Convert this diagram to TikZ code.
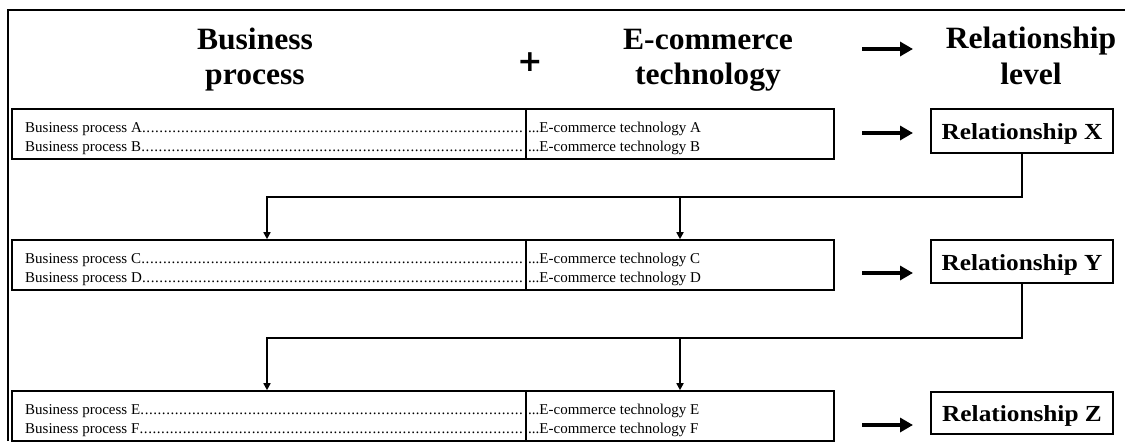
\documentclass[tikz,border=0pt]{standalone}
\usepackage{fontspec}
\setmainfont{Liberation Serif}
\newfontfamily\hdfont{Liberation Serif}[FakeStretch=1.02]
\newfontfamily\relfont{Liberation Serif}[FakeStretch=1.1]
\newfontfamily\plusfont{DejaVu Sans}
\usetikzlibrary{arrows.meta,calc}
\newcommand\dotlead{\xleaders\hbox to 4.3pt{\hss.\hss}\hfill}
\begin{document}
\begin{tikzpicture}[x=1pt,y=-1pt,
  frame/.style={line width=1.6pt},
  cell/.style={draw,line width=1.6pt,inner sep=0pt,minimum height=50pt},
  relbox/.style={draw,line width=1.6pt,inner sep=0pt,minimum width=182pt,
    text height=21pt,text depth=4pt,
    font=\relfont\fontsize{23pt}{25pt}\selectfont\bfseries},
  small/.style={inner sep=0pt,anchor=base west,font=\fontsize{15pt}{19pt}\selectfont},
  head/.style={inner sep=0pt,anchor=base,font=\hdfont\fontsize{31pt}{34pt}\selectfont\bfseries},
  bigarrow/.style={line width=4.5pt,-{Triangle[length=13pt,width=14pt]}},
  connarrow/.style={line width=1.6pt,-{Triangle[length=7pt,width=7pt]}}]
\useasboundingbox (0,0) rectangle (1128,442);
% outer frame
\draw[frame] (8,441) -- (8,10) -- (1125,10);
% header
\node[head] (h1) at (255,49) {Business};
\node[head] (h2) at (255,84) {process};
\node[inner sep=0pt,font=\plusfont\fontsize{30pt}{32pt}\selectfont\bfseries] (plus) at (530,62) {+};
\node[head] (h3) at (708,49) {E-commerce};
\node[head] (h4) at (708,84) {technology};
\node[head] (h5) at (1031,48) {Relationship};
\node[head] (h6) at (1031,84) {level};
\coordinate (ha0) at (862,49);
\coordinate (ha1) at (913,49);
\draw[bigarrow] (ha0) -- (ha1);
% row cells
\node[cell,minimum width=514pt] (bp1) at (269,134) {};
\node[cell,minimum width=308pt] (ec1) at (680,134) {};
\node[cell,minimum width=514pt] (bp2) at (269,265) {};
\node[cell,minimum width=308pt] (ec2) at (680,265) {};
\node[cell,minimum width=514pt] (bp3) at (269,416) {};
\node[cell,minimum width=308pt] (ec3) at (680,416) {};
% row texts
\node[small] (ta1) at (25,132) {\makebox[498pt][l]{Business process A\dotlead}};
\node[small] (tb1) at (25,151) {\makebox[498pt][l]{Business process B\dotlead}};
\node[small] (ua1) at (528,132) {...E-commerce technology A};
\node[small] (ub1) at (528,151) {...E-commerce technology B};
\node[small] (ta2) at (25,263) {\makebox[498pt][l]{Business process C\dotlead}};
\node[small] (tb2) at (25,282) {\makebox[498pt][l]{Business process D\dotlead}};
\node[small] (ua2) at (528,263) {...E-commerce technology C};
\node[small] (ub2) at (528,282) {...E-commerce technology D};
\node[small] (ta3) at (25,414) {\makebox[498pt][l]{Business process E\dotlead}};
\node[small] (tb3) at (25,433) {\makebox[498pt][l]{Business process F\dotlead}};
\node[small] (ua3) at (528,414) {...E-commerce technology E};
\node[small] (ub3) at (528,433) {...E-commerce technology F};
% relationship boxes
\node[relbox,minimum height=44pt] (rx) at (1022,131) {Relationship X};
\node[relbox,minimum height=43pt] (ry) at (1022,261.5) {Relationship Y};
\node[relbox,minimum height=42pt] (rz) at (1022,413) {Relationship Z};
% row arrows
\coordinate (a1s) at (862,133); \coordinate (a1e) at (913,133);
\coordinate (a2s) at (862,273); \coordinate (a2e) at (913,273);
\coordinate (a3s) at (862,425); \coordinate (a3e) at (913,425);
\draw[bigarrow] (a1s) -- (a1e);
\draw[bigarrow] (a2s) -- (a2e);
\draw[bigarrow] (a3s) -- (a3e);
% connectors
\coordinate (j1) at (267,197);
\coordinate (j2) at (267,338);
\draw[connarrow] (rx.south) |- (j1) -- (j1 |- bp2.north);
\draw[connarrow] (ec2.north |- j1) -- (ec2.north);
\draw[connarrow] (ry.south) |- (j2) -- (j2 |- bp3.north);
\draw[connarrow] (ec3.north |- j2) -- (ec3.north);
\end{tikzpicture}
\end{document}
